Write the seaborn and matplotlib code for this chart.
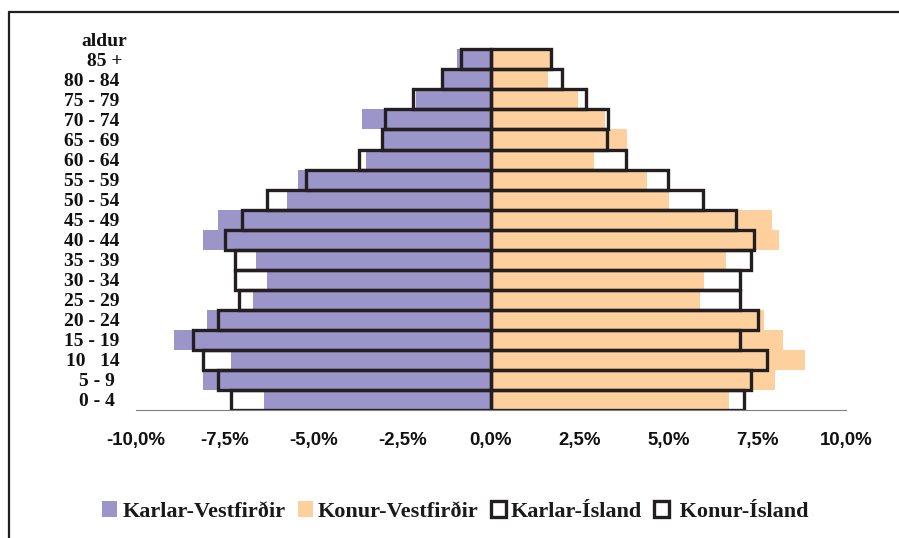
import numpy as np
import pandas as pd
import matplotlib
matplotlib.use('Agg')
import matplotlib.pyplot as plt
import seaborn as sns
from matplotlib.patches import Patch
from matplotlib.lines import Line2D
from matplotlib.transforms import ScaledTranslation
from matplotlib.font_manager import FontProperties

# ---- data (percent of population) ----
age_groups = ["85 +", "80 - 84", "75 - 79", "70 - 74", "65 - 69", "60 - 64",
              "55 - 59", "50 - 54", "45 - 49", "40 - 44", "35 - 39", "30 - 34",
              "25 - 29", "20 - 24", "15 - 19", "10   14", "5 - 9 ", "0 - 4 "]
karlar_vestfirdir = [-0.97, -1.34, -2.11, -3.63, -3.05, -3.52, -5.44, -5.74, -7.69,
                     -8.10, -6.62, -6.31, -6.70, -8.00, -8.93, -7.32, -8.10, -6.39]
konur_vestfirdir = [1.66, 1.61, 2.45, 3.22, 3.83, 2.90, 4.39, 5.01, 7.92,
                    8.11, 6.62, 6.00, 5.89, 7.68, 8.23, 8.85, 8.00, 6.70]
karlar_island = [-0.85, -1.39, -2.21, -2.99, -3.08, -3.71, -5.21, -6.30, -7.01,
                 -7.49, -7.22, -7.22, -7.11, -7.69, -8.40, -8.10, -7.69, -7.33]
konur_island = [1.70, 2.00, 2.68, 3.30, 3.28, 3.80, 4.99, 5.96, 6.90,
                7.41, 7.31, 7.00, 7.00, 7.51, 7.00, 7.77, 7.31, 7.13]
axis_title = "aldur"
x_ticks = [-10, -7.5, -5, -2.5, 0, 2.5, 5, 7.5, 10]
legend_labels = ["Karlar-Vestfirðir", "Konur-Vestfirðir", "Karlar-Ísland", " Konur-Ísland"]

order = [axis_title] + age_groups

df = pd.DataFrame({
    "aldur": age_groups,
    "kv": karlar_vestfirdir,
    "konv": konur_vestfirdir,
    "ki": karlar_island,
    "koni": konur_island,
})

sns.set_style("white")

PURPLE = "#9B95C9"
ORANGE = "#FDD09E"
DARK = "#231F20"

W, H = 899, 538
fig = plt.figure(figsize=(W / 100, H / 100), dpi=100)
ax = fig.add_axes([136 / W, 1 - 410 / H, 710 / W, (410 - 29.3) / H])

common = dict(y="aldur", order=order, orient="h", width=1.0, errorbar=None,
              saturation=1, ax=ax)
sns.barplot(data=df, x="kv", color=PURPLE, linewidth=0, **common)
sns.barplot(data=df, x="konv", color=ORANGE, linewidth=0, **common)
sns.barplot(data=df, x="ki", color=DARK, fill=False, linewidth=2.4, **common)
sns.barplot(data=df, x="koni", color=DARK, fill=False, linewidth=2.4, **common)

ax.set_xlim(-10, 10)
ax.set_ylim(len(order) - 0.5, -0.5)
ax.set_xticks(x_ticks)
ax.set_xticklabels([f"{v:.1f}%".replace(".", ",") for v in x_ticks],
                   fontfamily="Liberation Sans", fontweight="bold", fontsize=13.4)
ax.set_xlabel("")
ax.set_ylabel("")
for s in ["top", "right", "left"]:
    ax.spines[s].set_visible(False)
ax.spines["bottom"].set_color("#808080")
ax.spines["bottom"].set_linewidth(0.8)
ax.tick_params(axis="x", direction="out", length=4.5, width=0.8, color="#808080",
               pad=11, labelcolor="#111111")
ax.tick_params(axis="y", length=0, pad=12, labelcolor="#111111")
for lab in ax.get_yticklabels():
    lab.set_fontfamily("Liberation Serif")
    lab.set_fontweight("bold")
    lab.set_fontsize(14)
    t = lab.get_text()
    if t == axis_title:
        lab.set_transform(lab.get_transform() + ScaledTranslation(0.08, 0, fig.dpi_scale_trans))
    elif t == "85 +":
        lab.set_transform(lab.get_transform() + ScaledTranslation(0.03, 0, fig.dpi_scale_trans))

handles = [Patch(facecolor=PURPLE, edgecolor="none"),
           Patch(facecolor=ORANGE, edgecolor="none"),
           Patch(facecolor="white", edgecolor=DARK, linewidth=2.4),
           Patch(facecolor="white", edgecolor=DARK, linewidth=2.4)]
fig.legend(handles, legend_labels, loc="center",
           bbox_to_anchor=(455.5 / W, 1 - 511.5 / H), ncol=4, frameon=False,
           prop=FontProperties(family="Liberation Serif", weight="bold", size=16),
           handlelength=0.68, handleheight=0.68, handletextpad=0.23,
           columnspacing=0.54, borderpad=0, borderaxespad=0, labelcolor="#1a1a1a")

fig.add_artist(Line2D([9 / W, 9 / W], [0, 1 - 12 / H], transform=fig.transFigure,
                      color=DARK, lw=1.6))
fig.add_artist(Line2D([9 / W, 1], [1 - 12 / H, 1 - 12 / H], transform=fig.transFigure,
                      color=DARK, lw=1.6))

fig.savefig("out.png", dpi=100)
